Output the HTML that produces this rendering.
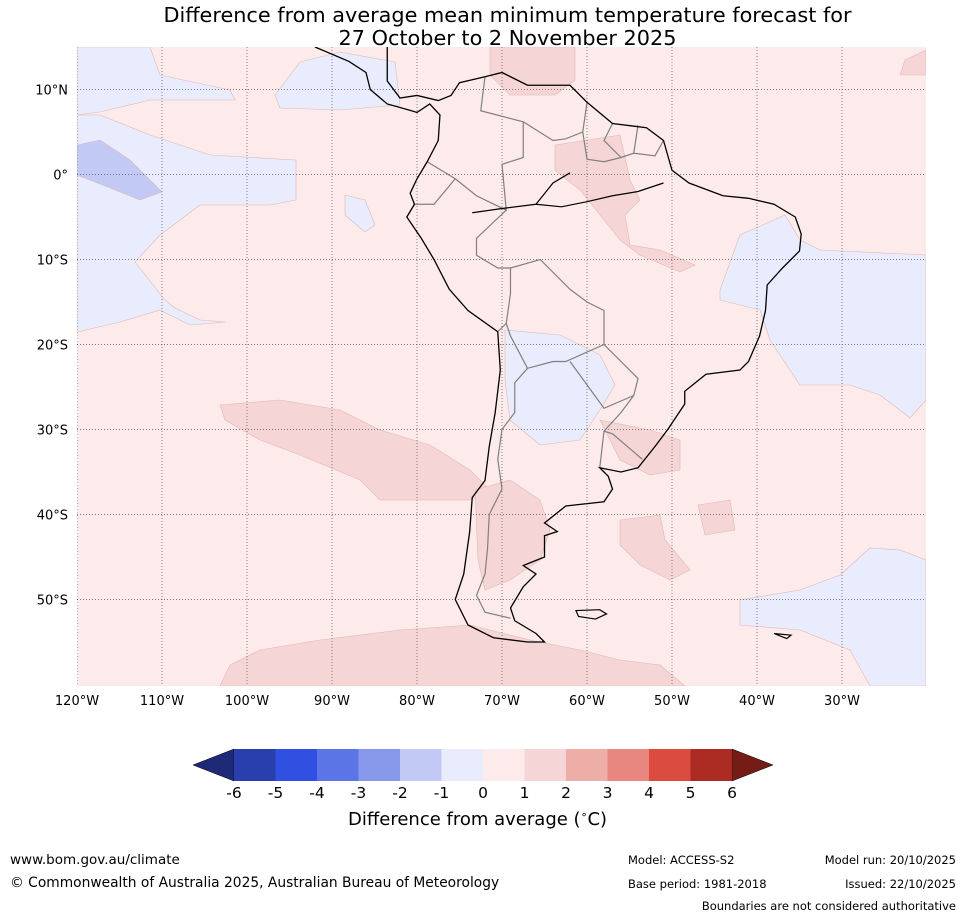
<!DOCTYPE html>
<html><head><meta charset="utf-8"><style>
body{margin:0;background:#fff;font-family:"DejaVu Sans","Liberation Sans",sans-serif;}
#wrap{position:relative;width:965px;height:919px;overflow:hidden;}
.t{position:absolute;white-space:nowrap;color:#000;}
</style></head><body>
<div id="wrap">
<div class="t" style="left:0;width:1015px;text-align:center;top:4px;font-size:20.8px;line-height:23px">Difference from average mean minimum temperature forecast for<br>27 October to 2 November 2025</div>
<svg id="svg" width="965" height="919" style="position:absolute;left:0;top:0"></svg>
<div class="t" style="left:348px;top:808px;font-size:18px">Difference from average (<sup style="font-size:11px">∘</sup>C)</div>
<div class="t" style="left:10px;top:852px;font-size:13.5px">www.bom.gov.au/climate</div>
<div class="t" style="left:10px;top:875px;font-size:13.8px">© Commonwealth of Australia 2025, Australian Bureau of Meteorology</div>
<div class="t" style="left:628px;top:853px;font-size:11.5px">Model: ACCESS-S2</div>
<div class="t" style="left:628px;top:877px;font-size:11.5px">Base period: 1981-2018</div>
<div class="t" style="right:9px;top:853px;font-size:11.5px">Model run: 20/10/2025</div>
<div class="t" style="right:9px;top:877px;font-size:11.5px">Issued: 22/10/2025</div>
<div class="t" style="right:9px;top:899px;font-size:11.5px">Boundaries are not considered authoritative</div>
</div>
<script>
const lonTicks=[-120,-110,-100,-90,-80,-70,-60,-50,-40,-30];
const latTicks=[10,0,-10,-20,-30,-40,-50];
const lonLabels=["120°W","110°W","100°W","90°W","80°W","70°W","60°W","50°W","40°W","30°W"];
const latLabels=["10°N","0°","10°S","20°S","30°S","40°S","50°S"];
const cbLevels=[-6,-5,-4,-3,-2,-1,0,1,2,3,4,5,6];
const cbColors=["#2a3fae","#2f50e0","#5b74e6","#8899ec","#c1c9f4","#e8ecfc","#fcebea","#f5d5d5","#eeaea8","#e8877f","#dc4b3f","#ab2a22"];
const cbLow="#1e2a78",cbHigh="#741c15";
const coast=[[-92,15],[-88,13.3],[-86,12],[-85.5,10],[-83.5,8.3],[-81,7.6],[-80,7.3],[-78.5,8.3],[-77.3,7],[-77.5,4],[-78.8,1.5],[-80,-0.5],[-80.8,-2.2],[-80.3,-3.5],[-81.2,-5],[-79.5,-7.5],[-78,-10],[-76.2,-13.5],[-74,-16],[-70.5,-18.5],[-70.2,-23],[-70.8,-28],[-71.5,-32],[-72,-36],[-73.5,-38],[-73.8,-42],[-74.5,-47],[-75.5,-50],[-74,-53],[-71,-54.5],[-67,-55],[-65,-55],[-66,-54],[-68.5,-52.5],[-69,-51],[-67.5,-48.5],[-66,-47],[-67.5,-46],[-65,-45],[-65,-42.5],[-63.5,-42],[-65,-41],[-62.5,-39],[-58,-38.5],[-57,-37],[-57.5,-35.5],[-58.5,-34.5],[-56,-35],[-54,-34.5],[-52,-32],[-50.5,-30],[-48.5,-27],[-48.5,-25.5],[-46,-23.5],[-42,-23],[-41,-22],[-39.7,-19],[-39,-16],[-38.8,-13],[-37,-11],[-35,-9],[-34.8,-7],[-35.5,-5],[-38,-3.5],[-41,-2.8],[-44,-2.5],[-48,-1],[-50,0.5],[-51,4],[-53,5.5],[-57,6],[-60,8.5],[-62,10.5],[-64,10.5],[-67,10.5],[-70,12],[-72,11.5],[-75,10.8],[-76,9.3],[-77.5,8.7],[-80,9.3],[-82,9],[-83.5,11],[-83.5,15]];
const borders=[
[[-72,11.5],[-72.5,7.5],[-67.5,6.2],[-67.5,2],[-70,1.2],[-69.5,-4.2],[-73,-2.5],[-75.5,-0.5],[-78.8,1.5]],
[[-80.3,-3.5],[-78,-3.5],[-75.5,-0.5]],
[[-69.5,-4.2],[-73,-7.5],[-73,-9.5],[-70.5,-11],[-69,-11],[-69,-14],[-69.5,-17.5],[-70.5,-18.5]],
[[-69,-11],[-65.5,-10],[-62,-13.5],[-60,-15],[-58,-16],[-58,-20],[-62.5,-22],[-64,-22],[-67,-22.8],[-69,-19],[-69.5,-17.5]],
[[-58,-20],[-54,-24],[-54.5,-26],[-58,-27.5],[-62,-22]],
[[-54.5,-26],[-56,-28],[-58,-30.2],[-57,-30.5],[-53.5,-33.5]],
[[-58,-30.2],[-58.5,-34.5]],
[[-67,-22.8],[-68.5,-24.5],[-68.5,-28],[-70,-30],[-70.5,-33.5],[-70,-37],[-71.5,-40],[-71.7,-44],[-72,-47],[-73,-49.5],[-72,-51.5],[-69,-52.2]],
[[-67.5,6.2],[-64,4],[-62.5,4.2],[-60.5,5],[-60,8.5]],
[[-60.5,5],[-60,1.8],[-58,1.5],[-56,2],[-54.5,2.5],[-52,2.2],[-51,4]],
[[-57,6],[-58,4],[-56,2]],[[-54.5,2.5],[-54,5.8]]
];
const rivers=[[[-73.5,-4.5],[-70,-4],[-66,-3.5],[-63,-3.8],[-60,-3.2],[-57,-2.5],[-54,-2],[-51,-1]],[[-66,-3.5],[-64,-1],[-62,0.2]]];
const islands=[[[-61.3,-51.3],[-58.5,-51.2],[-57.7,-51.7],[-59,-52.3],[-61,-52]],[[-38,-54],[-36,-54.2],[-36.5,-54.6]]];
const regions=[
{c:"#e8ecfc",p:[[77,47],[150,47],[160,75],[230,90],[235,100],[150,100],[100,112],[77,115]]},
{c:"#e8ecfc",p:[[77,115],[100,115],[150,135],[210,155],[296,160],[296,200],[270,205],[200,205],[160,235],[135,262],[165,300],[175,308],[200,320],[225,322],[190,325],[160,310],[120,322],[77,332]]},
{c:"#c1c9f4",p:[[77,145],[100,140],[130,160],[162,192],[140,200],[110,188],[77,175]]},
{c:"#e8ecfc",p:[[300,62],[340,52],[395,62],[400,105],[340,110],[280,108],[275,95]]},
{c:"#e8ecfc",p:[[345,195],[365,200],[375,225],[365,232],[345,215]]},
{c:"#e8ecfc",p:[[720,290],[740,235],[785,215],[800,240],[820,250],[926,255],[926,400],[910,418],[880,395],[850,385],[800,385],[770,340],[760,310],[720,300]]},
{c:"#e8ecfc",p:[[505,330],[560,335],[600,355],[615,385],[600,410],[580,440],[540,445],[510,420],[505,380]]},
{c:"#e8ecfc",p:[[740,600],[800,590],[840,575],[870,548],[900,550],[926,560],[926,686],[870,686],[850,650],[800,630],[740,625]]},
{c:"#f5d5d5",p:[[220,405],[280,400],[340,410],[380,430],[430,445],[470,470],[490,490],[470,500],[430,500],[380,500],[360,480],[300,455],[260,440],[225,420]]},
{c:"#f5d5d5",p:[[220,686],[230,665],[260,650],[320,640],[400,630],[470,625],[530,640],[580,650],[620,660],[660,665],[685,686]]},
{c:"#f5d5d5",p:[[475,490],[510,480],[540,500],[550,530],[540,560],[510,580],[485,590],[478,560]]},
{c:"#f5d5d5",p:[[620,520],[660,515],[665,540],[690,570],[670,580],[640,565],[620,545]]},
{c:"#f5d5d5",p:[[698,505],[730,500],[735,530],[705,535]]},
{c:"#f5d5d5",p:[[555,145],[620,135],[630,180],[640,200],[625,215],[630,245],[660,250],[695,265],[680,272],[640,255],[620,240],[580,190],[555,170]]},
{c:"#f5d5d5",p:[[490,47],[575,47],[575,80],[555,95],[510,95],[490,75]]},
{c:"#f5d5d5",p:[[600,420],[650,430],[680,440],[680,470],[650,475],[620,460]]},
{c:"#f5d5d5",p:[[905,60],[926,50],[926,75],[900,75]]}
];
const L=77,R=926,T=47,B=686;
const x=lon=>L+(lon+120)*8.5, y=lat=>T+(15-lat)*8.5;
const pts=a=>a.map(p=>x(p[0])+','+y(p[1])).join(' ');
const ns="http://www.w3.org/2000/svg",svg=document.getElementById('svg');
function mk(t,a,parent){const e=document.createElementNS(ns,t);for(const k in a)e.setAttribute(k,a[k]);(parent||svg).appendChild(e);return e;}
const defs=mk('defs',{});const cp=mk('clipPath',{id:'clip'},defs);mk('rect',{x:L,y:T,width:R-L,height:B-T},cp);
const g=mk('g',{'clip-path':'url(#clip)'});

const bg=mk('rect',{x:L,y:T,width:R-L,height:B-T,fill:'#fcebea'},g);

regions.forEach(r=>{const e=mk('polygon',{points:r.p.map(q=>q.join(',')).join(' '),fill:r.c,stroke:'#e0b8b4','stroke-width':0.6,'stroke-linejoin':'round'},g);
});
lonTicks.forEach(v=>{const l=mk('line',{x1:x(v),x2:x(v),y1:T,y2:B,stroke:'#555','stroke-width':0.7,'stroke-dasharray':'1,2'},g);
});
latTicks.forEach(v=>{const l=mk('line',{x1:L,x2:R,y1:y(v),y2:y(v),stroke:'#555','stroke-width':0.7,'stroke-dasharray':'1,2'},g);
});
borders.forEach(b=>{const e=mk('polyline',{points:pts(b),fill:'none',stroke:'#808080','stroke-width':1.2},g);
});
rivers.forEach(b=>{const e=mk('polyline',{points:pts(b),fill:'none',stroke:'#000','stroke-width':1.2},g);
});
islands.forEach(b=>{const e=mk('polygon',{points:pts(b),fill:'none',stroke:'#000','stroke-width':1.2},g);
});
const land=mk('polyline',{points:pts(coast),fill:'none',stroke:'#000','stroke-width':1.3},g);

lonTicks.forEach((v,i)=>{const t=mk('text',{x:x(v),y:705,'font-size':13,'text-anchor':'middle','font-family':'DejaVu Sans, Liberation Sans, sans-serif'});t.textContent=lonLabels[i];
});
latTicks.forEach((v,i)=>{const t=mk('text',{x:68,y:y(v)+5,'font-size':13,'text-anchor':'end','font-family':'DejaVu Sans, Liberation Sans, sans-serif'});t.textContent=latLabels[i];
});
const cx0=234,cx1=732,cy0=749,cy1=781,n=cbColors.length;
const cb=v=>cx0+(v-cbLevels[0])/(cbLevels[n]-cbLevels[0])*(cx1-cx0);
const lt=mk('polygon',{points:`${cx0},${cy0} ${cx0},${cy1} 193,${(cy0+cy1)/2}`,fill:cbLow,stroke:'#000','stroke-width':0.5});

const rt=mk('polygon',{points:`${cx1},${cy0} ${cx1},${cy1} 773,${(cy0+cy1)/2}`,fill:cbHigh,stroke:'#000','stroke-width':0.5});

cbColors.forEach((c,i)=>{const r=mk('rect',{x:cb(cbLevels[i]),y:cy0,width:cb(cbLevels[i+1])-cb(cbLevels[i]),height:cy1-cy0,fill:c});
});
cbLevels.forEach(v=>{const t=mk('text',{x:cb(v),y:798,'font-size':15.5,'text-anchor':'middle','font-family':'DejaVu Sans, Liberation Sans, sans-serif'});t.textContent=v;
});
</script>
</body></html>
